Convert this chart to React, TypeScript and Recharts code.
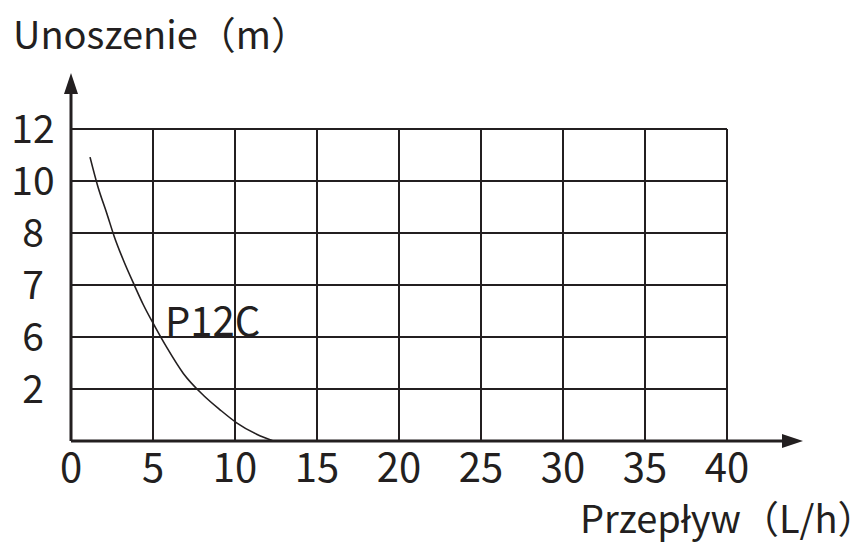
import { LineChart, Line, XAxis, YAxis, CartesianGrid, LabelList } from 'recharts'

// flow (L/h) vs head, head given as position on the (uneven) y scale
const flow = [1.16, 1.66, 2.18, 2.64, 3.19, 3.9, 4.41, 5.12, 5.84, 6.85, 8.07, 9.09, 10.1, 11.32, 12.34]
const head = [5.46, 4.87, 4.38, 3.93, 3.48, 2.97, 2.62, 2.2, 1.8, 1.3, 0.88, 0.6, 0.35, 0.13, 0]
const xTicks = [0, 5, 10, 15, 20, 25, 30, 35, 40]
const yTickLabels = ['', '2', '6', '7', '8', '10', '12']
const seriesName = 'P12C'

const data = flow.map((f, i) => ({ flow: f, head: head[i] }))

const W = 861
const H = 547
const LEFT = 71
const RIGHT = 727
const TOP = 129
const BOTTOM = 441
const INK = '#231f20'
const FONT = '"Noto Sans CJK SC", "Noto Sans", sans-serif'

const XTick = (props: any) => {
  const { x, y, payload } = props
  return (
    <text x={x} y={y + 41} textAnchor="middle" fontSize={40} fill={INK} fontFamily={FONT}>
      {payload.value}
    </text>
  )
}

const YTick = (props: any) => {
  const { x, y, payload } = props
  return (
    <text x={x - 38} y={y + 14} textAnchor="middle" fontSize={39} fill={INK} fontFamily={FONT}>
      {yTickLabels[payload.value]}
    </text>
  )
}

const SeriesLabel = (props: any) => {
  const { x, y, index } = props
  if (index !== 7) return null
  return (
    <text x={x + 10} y={y + 9} fontSize={40} fill={INK} fontFamily={FONT}>
      {seriesName}
    </text>
  )
}

export default function App() {
  return (
    <div style={{ position: 'absolute', left: 0, top: 0, width: W, height: H, background: '#fff' }}>
      <LineChart
        width={W}
        height={H}
        data={data}
        margin={{ top: TOP, right: W - RIGHT, bottom: H - BOTTOM - 30, left: LEFT - 60 }}
      >
        <CartesianGrid stroke={INK} strokeWidth={2} strokeOpacity={1} />
        <XAxis
          dataKey="flow"
          type="number"
          domain={[0, 40]}
          ticks={xTicks}
          height={30}
          tickSize={0}
          tickMargin={0}
          tickLine={false}
          axisLine={{ stroke: INK, strokeWidth: 3 }}
          tick={<XTick />}
          interval={0}
        />
        <YAxis
          type="number"
          domain={[0, 6]}
          ticks={[1, 2, 3, 4, 5, 6]}
          width={60}
          tickSize={0}
          tickMargin={0}
          tickLine={false}
          axisLine={{ stroke: INK, strokeWidth: 3 }}
          tick={<YTick />}
          interval={0}
        />
        <Line
          dataKey="head"
          type="monotone"
          stroke={INK}
          strokeWidth={1.6}
          dot={false}
          isAnimationActive={false}
        >
          <LabelList dataKey="head" content={<SeriesLabel />} />
        </Line>
      </LineChart>
      <svg
        width={W}
        height={H}
        style={{ position: 'absolute', left: 0, top: 0, pointerEvents: 'none' }}
      >
        <line x1={LEFT} y1={TOP} x2={LEFT} y2={90} stroke={INK} strokeWidth={3} />
        <polygon points={`${LEFT},73 ${LEFT - 7},94 ${LEFT + 7},94`} fill={INK} />
        <line x1={RIGHT} y1={BOTTOM} x2={785} y2={BOTTOM} stroke={INK} strokeWidth={3} />
        <polygon points={`803,${BOTTOM} 782,${BOTTOM - 7} 782,${BOTTOM + 7}`} fill={INK} />
        <text x={13} y={49} fontSize={38} fill={INK} fontFamily={FONT}>
          Unoszenie（m）
        </text>
        <text x={580} y={533} fontSize={38} fill={INK} fontFamily={FONT}>
          Przepływ（L/h）
        </text>
      </svg>
    </div>
  )
}
